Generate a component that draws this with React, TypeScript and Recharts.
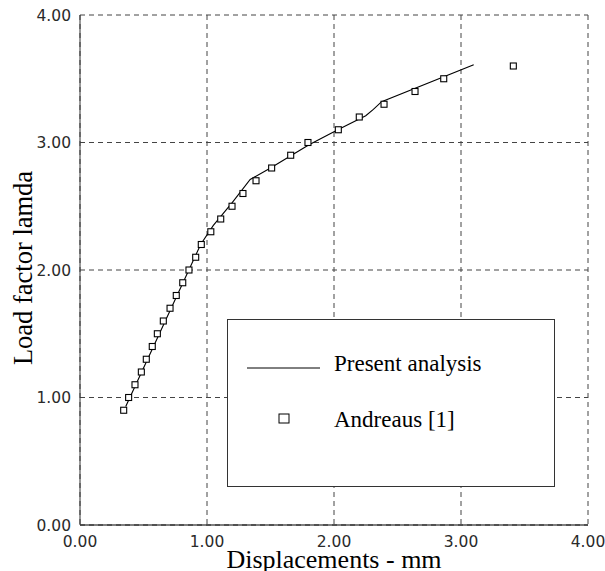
import React from "react"
import {
  ComposedChart,
  Line,
  Scatter,
  XAxis,
  YAxis,
  CartesianGrid,
  Legend,
  Label,
} from "recharts"

// Present analysis curve
const presentX = [0.36, 0.95, 1.05, 1.2, 1.34, 1.5, 1.8, 2.03, 2.25, 2.31, 2.375, 3.1]
const presentY = [0.93, 2.2, 2.35, 2.53, 2.71, 2.8, 2.98, 3.1, 3.21, 3.26, 3.32, 3.61]

// Andreaus [1] experimental points
const andreausX = [
  0.344, 0.383, 0.433, 0.483, 0.522, 0.569, 0.609, 0.656, 0.709, 0.758, 0.809, 0.858, 0.911, 0.955,
  1.03, 1.108, 1.197, 1.283, 1.386, 1.509, 1.659, 1.795, 2.034, 2.199, 2.394, 2.638, 2.864, 3.412,
]
const andreausY = [
  0.9, 1.0, 1.1, 1.2, 1.3, 1.4, 1.5, 1.6, 1.7, 1.8, 1.9, 2.0, 2.1, 2.2,
  2.3, 2.4, 2.5, 2.6, 2.7, 2.8, 2.9, 3.0, 3.1, 3.2, 3.3, 3.4, 3.5, 3.6,
]

const xTicks = [0, 1, 2, 3, 4]
const yTicks = [0, 1, 2, 3, 4]

const presentData = presentX.map((x, i) => ({ x, y: presentY[i] }))
const andreausData = andreausX.map((x, i) => ({ x, y: andreausY[i] }))

const tickStyle = { fontFamily: "DejaVu Sans", fontSize: 15.5, fill: "#2a2a2a" }
const serif = "Liberation Serif"

function SquareMark(props: any) {
  const { cx, cy } = props
  if (cx == null || cy == null) return null
  return <rect x={cx - 3} y={cy - 3} width={6} height={6} fill="#fff" stroke="#000" strokeWidth={1.1} />
}

function LegendBox() {
  const textStyle: React.CSSProperties = {
    position: "absolute",
    left: 106,
    whiteSpace: "nowrap",
    fontFamily: serif,
    fontSize: 23,
    lineHeight: "26px",
    color: "#000",
  }
  return (
    <div
      style={{
        position: "relative",
        width: 328,
        height: 168,
        boxSizing: "border-box",
        border: "1px solid #333",
        background: "#fff",
      }}
    >
      <svg width={328} height={168} style={{ position: "absolute", left: -1, top: -1 }}>
        <line x1={20} x2={93} y1={49} y2={49} stroke="#000" strokeWidth={1} />
        <rect x={52} y={95} width={10} height={9} fill="#fff" stroke="#000" strokeWidth={1} />
      </svg>
      <div style={{ ...textStyle, top: 31 }}>Present analysis</div>
      <div style={{ ...textStyle, top: 87 }}>Andreaus [1]</div>
    </div>
  )
}

export default function App() {
  return (
    <div style={{ position: "absolute", left: 0, top: 0, background: "#fff" }}>
      <ComposedChart width={605} height={571} margin={{ top: 15, right: 17, left: 0, bottom: 0 }}>
        <CartesianGrid stroke="#444" strokeDasharray="5 4" />
        <XAxis
          type="number"
          dataKey="x"
          domain={[0, 4]}
          ticks={xTicks}
          tickFormatter={(v: number) => v.toFixed(2)}
          tick={tickStyle}
          tickLine={false}
          tickMargin={5}
          axisLine={{ stroke: "#000", strokeWidth: 1.2 }}
          height={46}
          allowDataOverflow
        >
          <Label
            value="Displacements - mm"
            position="insideBottom"
            offset={3}
            style={{ fontFamily: serif, fontSize: 26, fill: "#000" }}
          />
        </XAxis>
        <YAxis
          type="number"
          dataKey="y"
          domain={[0, 4]}
          ticks={yTicks}
          tickFormatter={(v: number) => v.toFixed(2)}
          tick={tickStyle}
          tickLine={false}
          tickMargin={3}
          axisLine={{ stroke: "#333", strokeWidth: 1 }}
          width={80}
          allowDataOverflow
        >
          <Label
            content={() => (
              <text
                x={23}
                y={268}
                transform="rotate(-90 23 268)"
                textAnchor="middle"
                dominantBaseline="central"
                style={{ fontFamily: serif, fontSize: 26.5, fill: "#000" }}
              >
                Load factor lamda
              </text>
            )}
          />
        </YAxis>
        <Legend
          layout="horizontal"
          verticalAlign="middle"
          align="center"
          wrapperStyle={{ position: "absolute", left: 227, top: 319, width: 328, height: 168 }}
          content={() => <LegendBox />}
        />
        <Line
          data={presentData}
          dataKey="y"
          type="linear"
          stroke="#000"
          strokeWidth={1.1}
          dot={false}
          activeDot={false}
          isAnimationActive={false}
          legendType="none"
        />
        <Scatter
          data={andreausData}
          dataKey="y"
          shape={SquareMark}
          isAnimationActive={false}
          legendType="none"
        />
      </ComposedChart>
    </div>
  )
}
